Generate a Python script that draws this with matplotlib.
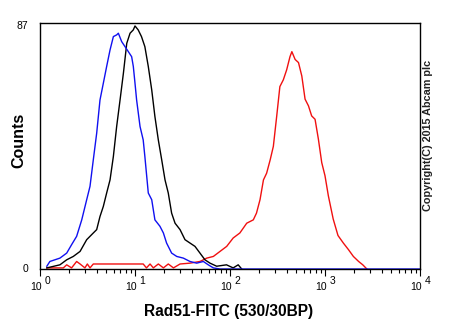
import matplotlib
matplotlib.use("Agg")
import matplotlib.pyplot as plt
from matplotlib.transforms import blended_transform_factory, offset_copy
from matplotlib.ticker import LogLocator, NullFormatter

plt.rcParams['font.family'] = ['Liberation Sans', 'DejaVu Sans']

# ---- data (fluorescence intensity, counts) ----
blue_x = [1.18, 1.27, 1.62, 1.91, 2.15, 2.43, 2.75, 3.10, 3.36, 3.64, 3.95, 4.28, 4.64,
          5.03, 5.46, 5.92, 6.41, 6.68, 7.24, 7.85, 8.51, 9.22, 9.60, 10.0, 10.4, 11.3,
          12.2, 12.7, 13.8, 15.0, 16.2, 18.3, 19.9, 21.5, 24.3, 27.5, 32.3, 37.9, 44.6,
          52.4, 59.1, 66.8, 78.5, 10000]
blue_y = [1.0, 2.7, 3.9, 5.7, 8.7, 11.7, 17.6, 24.8, 29.6, 39.1, 48.6, 60.5, 66.5,
          72.5, 78.4, 83.2, 83.8, 84.4, 81.4, 79.6, 77.8, 76.0, 72.5, 66.5, 60.5, 51.0,
          46.2, 40.3, 27.2, 24.8, 17.6, 15.3, 12.9, 9.3, 5.7, 4.5, 3.9, 2.7, 2.1,
          2.7, 1.5, 0.4, 0.0, 0.0]

black_x = [1.18, 1.62, 1.91, 2.24, 2.64, 3.10, 3.64, 3.95, 4.28, 4.64, 5.03, 5.46, 5.92,
           6.41, 6.96, 7.55, 8.19, 8.87, 9.60, 10.0, 10.8, 11.7, 12.7, 13.8, 15.0, 16.2,
           17.6, 19.1, 20.7, 22.4, 24.3, 26.4, 29.8, 33.6, 37.9, 42.8, 48.3, 54.5, 61.6,
           72.4, 91.9, 108, 122, 133]
black_y = [0.4, 1.5, 3.3, 4.5, 6.3, 10.5, 12.9, 14.1, 18.8, 22.4, 27.2, 31.9, 40.3,
           51.0, 60.5, 70.1, 80.8, 84.4, 85.6, 87.0, 85.6, 83.2, 79.6, 72.5, 64.1, 54.6,
           46.2, 39.1, 31.9, 27.2, 20.0, 16.4, 14.1, 10.5, 9.3, 8.1, 5.7, 3.3, 2.1,
           1.0, 1.5, 0.4, 1.5, 0.0]

red_x = [1.18, 1.76, 1.91, 2.15, 2.43, 2.64, 2.97, 3.15, 3.36, 3.64, 12.2, 13.2, 14.4,
         15.6, 17.6, 19.9, 22.4, 25.4, 29.8, 37.9, 48.3, 56.9, 66.8, 78.5, 92.3, 108,
         127, 150, 176, 190, 207, 225, 243, 265, 286, 310, 335, 364, 395, 428, 448,
         485, 526, 570, 617, 670, 724, 786, 852, 924, 1000, 1085, 1220, 1370, 1560,
         1770, 1990, 2260, 2500, 2760]
red_y = [0.4, 0.4, 1.5, 0.4, 2.7, 1.8, 0.4, 1.8, 0.4, 1.8, 1.8, 0.4, 1.8,
         0.4, 1.8, 0.4, 1.8, 0.4, 1.8, 2.1, 2.7, 3.9, 4.5, 6.3, 8.1, 11.1,
         12.9, 16.4, 17.6, 20.0, 24.8, 31.9, 34.3, 39.1, 43.9, 54.6, 65.3, 67.7, 71.3, 76.0, 77.8,
         75.0, 73.9, 69.1, 60.8, 58.4, 54.8, 53.6, 46.5, 38.1, 33.4, 26.2, 17.9, 12.0, 9.3,
         6.9, 4.5, 2.7, 1.5, 0.0]

decades = [0, 1, 2, 3, 4]
y_labels = ["0", "87"]
y_label_vals = [0, 87]

fig = plt.figure(figsize=(4.5, 3.3), dpi=100)
ax = fig.add_axes([0.0889, 0.1848, 0.8444, 0.745])

ax.plot(red_x, red_y, color='#f01010', lw=1.0)
ax.plot(black_x, black_y, color='black', lw=1.0)
ax.plot(blue_x, blue_y, color='#1010f0', lw=1.0)

ax.set_xscale('log')
ax.set_xlim(1, 1e4)
ax.set_ylim(0, 88)
ax.set_yticks([])
ax.xaxis.set_major_locator(LogLocator(base=10, numticks=10))
ax.xaxis.set_minor_locator(LogLocator(base=10, subs=range(2, 10), numticks=20))
ax.xaxis.set_major_formatter(NullFormatter())
ax.xaxis.set_minor_formatter(NullFormatter())
ax.tick_params(axis='x', which='major', length=5, width=0.8, direction='out', color='black')
ax.tick_params(axis='x', which='minor', length=3, width=0.8, direction='out', color='black')
for s in ax.spines.values():
    s.set_linewidth(1.0)
    s.set_color('black')

bt = blended_transform_factory(ax.transData, ax.transAxes)
for k in decades:
    ax.text(10 ** k, 0, '10', transform=offset_copy(bt, fig, x=1.3, y=-9.5, units='points'),
            ha='right', va='top', fontsize=7.5)
    ax.text(10 ** k, 0, str(k), transform=offset_copy(bt, fig, x=3.3, y=-5.0, units='points'),
            ha='left', va='top', fontsize=7.5)

bty = blended_transform_factory(ax.transAxes, ax.transData)
for lab, v in zip(y_labels, y_label_vals):
    ax.text(0, v, lab, transform=offset_copy(bty, fig, x=-8.5, y=0, units='points'),
            ha='right', va='center', fontsize=7.5)

fig.text(0.042, 0.576, 'Counts', rotation=90, ha='center', va='center',
         fontsize=11.5, fontweight='bold')
fig.text(0.507, 0.055, 'Rad51-FITC (530/30BP)', ha='center', va='center',
         fontsize=11.2, fontweight='bold')
fig.text(0.951, 0.59, 'Copyright(C) 2015 Abcam plc', rotation=90, ha='center', va='center',
         fontsize=7.8, fontweight='bold', color='#222222')

fig.savefig('out.png', dpi=100)
